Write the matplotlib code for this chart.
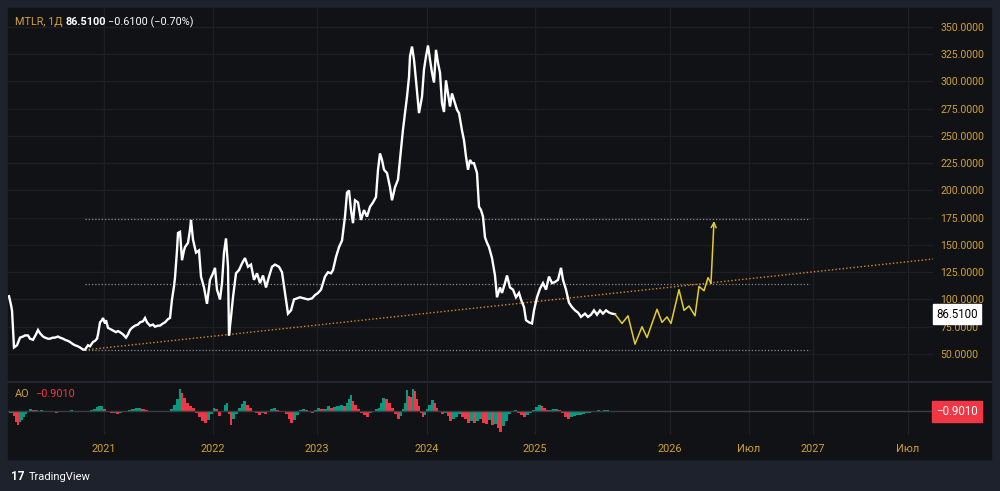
import numpy as np
import matplotlib.pyplot as plt
from matplotlib.patches import Rectangle
import matplotlib.transforms as mtransforms

plt.rcParams['font.family'] = ['Roboto', 'DejaVu Sans']

# --- données (x = rang de barre sur l'axe du temps)
bar = [9, 11, 12, 14, 17, 20, 23, 25, 28, 30, 33, 36, 38, 40, 43, 45, 48, 50, 53, 55,
       58, 60, 63, 65, 68, 70, 73, 75, 78, 80, 83, 85, 88, 90, 93, 95, 97, 98, 100, 102,
       103, 105, 106, 108, 110, 112, 114, 116, 118, 120, 123, 126, 128, 130, 132, 135, 138, 140, 143, 145,
       147, 150, 153, 155, 158, 160, 163, 165, 168, 170, 172, 174, 175, 177, 178, 180, 182, 184, 185, 188,
       190, 191, 193, 196, 199, 201, 204, 207, 210, 213, 215, 217, 220, 222, 224, 226, 228, 229, 231, 233,
       236, 239, 242, 245, 248, 251, 254, 257, 260, 263, 266, 269, 272, 275, 279, 282, 285, 288, 291, 294,
       297, 300, 304, 308, 312, 315, 318, 321, 325, 328, 331, 333, 336, 339, 342, 345, 347, 349, 351, 353,
       355, 358, 361, 364, 367, 370, 373, 376, 378, 380, 382, 384, 387, 390, 392, 395, 398, 401, 403, 405,
       407, 409, 410, 412, 414, 416, 419, 422, 424, 426, 428, 430, 432, 434, 436, 438, 440, 442, 444, 446,
       448, 450, 452, 454, 457, 459, 462, 464, 466, 468, 470, 472, 474, 477, 479, 481, 483, 485, 487, 489,
       492, 495, 497, 500, 502, 505, 507, 510, 513, 516, 519, 521, 524, 526, 529, 532, 534, 537, 540, 543,
       546, 549, 552, 555, 558, 561, 563, 566, 569, 572, 575, 578, 581, 585, 588, 591, 594, 597, 600, 603,
       606, 609, 612, 615]
close = [103, 95, 90, 56, 58, 65, 66, 67, 67, 64, 63, 68, 72, 69, 66, 65, 64, 64, 65, 65,
         66, 65, 64, 63, 62, 61, 59, 58, 57, 56, 54, 54, 58, 57, 61, 62, 64, 68, 79, 81,
         83, 78, 81, 74, 73, 72, 71, 70, 71, 70, 68, 65, 68, 72, 74, 76, 77, 79, 80, 83,
         79, 76, 77, 75, 76, 76, 78, 79, 82, 83, 100, 112, 120, 145, 161, 162, 136, 145, 148, 152,
         164, 173, 155, 143, 145, 121, 111, 96, 118, 124, 129, 109, 100, 115, 143, 156, 130, 67, 84, 102,
         124, 127, 133, 138, 130, 132, 118, 124, 115, 122, 111, 121, 130, 132, 130, 125, 106, 87, 90, 100,
         101, 102, 101, 100, 101, 104, 106, 109, 121, 125, 124, 127, 139, 148, 154, 176, 198, 200, 182, 170,
         191, 189, 173, 182, 176, 185, 189, 194, 219, 234, 228, 219, 216, 203, 191, 203, 210, 237, 256, 271,
         286, 304, 323, 332, 320, 301, 271, 286, 311, 323, 333, 320, 308, 299, 329, 317, 308, 280, 272, 301,
         289, 277, 289, 283, 274, 271, 255, 246, 231, 219, 228, 225, 225, 216, 185, 182, 176, 157, 152, 148,
         138, 122, 102, 111, 106, 115, 122, 111, 109, 102, 106, 100, 93, 81, 79, 78, 90, 102, 110, 115,
         109, 121, 115, 116, 118, 129, 118, 109, 97, 93, 90, 88, 84, 87, 84, 86, 90, 86, 90, 87,
         90, 88, 87, 86.51]

# prévision (jaune)
fc_bar = [615, 622, 628, 635, 642, 647, 657, 662, 667, 671, 679, 684, 689, 695, 699, 704, 708, 711, 714]
fc_val = [86.51, 78, 85, 59, 75, 65, 91, 79, 84, 78, 109, 90, 94, 85, 112, 108, 120, 115, 172]

# niveaux horizontaux et ligne de tendance
levels = [174, 114, 53.7]
level_span = [85, 810]
trend_pts = [(85, 53.7), (820, 126)]

# AO
ao_bar = [9, 11, 13, 15, 17, 19, 21, 23, 25, 27, 29, 32, 35, 38, 40, 43, 45, 48, 50, 53,
          55, 58, 60, 63, 66, 70, 73, 76, 80, 83, 86, 90, 93, 96, 98, 100, 103, 106, 110, 113,
          116, 119, 122, 125, 128, 131, 135, 138, 141, 145, 148, 151, 155, 158, 161, 164, 167, 170, 173, 176,
          179, 181, 183, 186, 189, 192, 195, 198, 201, 204, 207, 210, 213, 215, 218, 221, 224, 226, 228, 230,
          232, 235, 238, 241, 243, 246, 249, 252, 255, 258, 261, 264, 267, 270, 273, 276, 279, 282, 285, 288,
          290, 293, 296, 299, 302, 305, 308, 311, 314, 317, 320, 323, 327, 330, 333, 336, 340, 343, 346, 348,
          350, 352, 354, 357, 360, 363, 366, 369, 372, 375, 378, 380, 382, 385, 388, 391, 394, 397, 400, 402,
          404, 406, 408, 410, 412, 414, 416, 418, 420, 422, 424, 426, 428, 431, 434, 436, 438, 441, 444, 447,
          449, 452, 455, 458, 461, 464, 467, 470, 473, 476, 479, 482, 485, 488, 491, 494, 497, 499, 502, 505,
          508, 511, 514, 517, 520, 523, 526, 529, 532, 535, 538, 541, 543, 546, 549, 552, 555, 558, 561, 564,
          567, 570, 573, 576, 579, 582, 585, 588, 591, 594, 597, 600, 603, 606, 609, 612, 615]
ao_val = [-2, -2, -5, -11, -14, -11, -9, -6, -3, 0, 2, 1, 1, 0, 1, 0, 0, -1, -1, -1,
          -2, -1, -1, 0, 0, 1, 0, 0, 0, -1, 0, 1, 2, 4, 5, 5, 2, 0, -2, -2,
          -3, -2, -1, 0, 1, 2, 3, 3, 2, 1, 0, 0, -1, -1, 0, 0, 0, 2, 6, 12,
          22, 18, 13, 8, 5, 3, -2, -6, -10, -12, -9, -3, 3, 2, -5, 0, 6, 8, -3, -14,
          -8, -3, 3, 7, 10, 6, 3, 0, -2, -4, -2, -3, 0, 2, 3, 1, 0, -1, -3, -8,
          -12, -9, -4, 1, 2, 1, -1, -2, 1, 3, 2, 2, 5, 3, 4, 5, 6, 5, 8, 12,
          16, 10, 6, 2, -2, -4, -6, -2, 0, 2, 3, 8, 13, 12, 8, 3, -3, -8, -5, 2,
          8, 21, 15, 14, 22, 20, 12, 5, -2, -6, -4, 2, 6, 11, 8, 3, 0, -3, -2, -5,
          -10, -8, -6, -3, -6, -8, -12, -10, -12, -10, -8, -12, -13, -9, -14, -13, -17, -21, -15, -10,
          -3, 0, 1, -2, -4, -6, -4, -2, 1, 4, 6, 5, 3, 1, 1, 2, 2, 1, -2, -6,
          -8, -6, -5, -4, -4, -3, -2, -2, -1, 0, 1, 0, 1, 1, 0, -1, -0.901]

price_ticks = [50, 75, 100, 125, 150, 175, 200, 225, 250, 275, 300, 325, 350]
time_ticks = [104, 213, 317, 427, 535, 670, 749, 813, 908]
time_labels = ['2021', '2022', '2023', '2024', '2025', '2026', 'Июл', '2027', 'Июл']

# couleurs
bg_out = '#1e222d'
bg = '#111215'
grid = '#1d1f25'
gold = '#d0a235'
green = '#089981'
red = '#f23645'

W, H = 1000, 491
def fx(p): return p / W
def fy(p): return 1 - p / H

fig = plt.figure(figsize=(10, 4.91), dpi=100, facecolor=bg_out)
fig.patches.append(Rectangle((fx(8), fy(459)), fx(991) - fx(8), fy(8) - fy(459),
                             transform=fig.transFigure, color=bg, zorder=-5))

ax = fig.add_axes([fx(8), fy(381), fx(933) - fx(8), fy(8) - fy(381)])
ax2 = fig.add_axes([fx(8), fy(435), fx(933) - fx(8), fy(382) - fy(435)], sharex=ax)
for a in (ax, ax2):
    a.set_facecolor('none')
    for s in a.spines.values():
        s.set_visible(False)
    a.set_xticks(time_ticks)
    a.grid(True, axis='x', color=grid, lw=1)
    a.set_axisbelow(True)

# séparateur des panneaux
fig.add_artist(plt.Line2D([fx(8), fx(991)], [fy(381.5), fy(381.5)], color='#2a2d36', lw=1.2, zorder=-4))

# --- panneau prix
ax.set_xlim(8, 933)
ax.set_ylim(25.2, 367.4)
ax.set_yticks(price_ticks)
ax.yaxis.tick_right()
ax.yaxis.set_major_formatter(plt.FuncFormatter(lambda v, p: f'{v:.4f}'))
ax.tick_params(axis='y', length=0, pad=5.5, labelcolor=gold, labelsize=7.6)
ax.tick_params(axis='x', length=0, labelbottom=False)
ax.grid(True, axis='y', color=grid, lw=1)

for lv in levels:
    ax.plot(level_span, [lv, lv], color='#8a8d96', lw=0.9, ls=(0, (1, 1.6)))

(x0, y0), (x1, y1) = trend_pts
slope = (y1 - y0) / (x1 - x0)
ax.plot([x0, 933], [y0, y0 + slope * (933 - x0)], color='#d98a1f', lw=1.0, ls=(0, (1, 1.6)))

ax.plot(bar, close, color='white', lw=1.7, solid_joinstyle='miter', zorder=5)

ax.plot(fc_bar[:-1], fc_val[:-1], color='#e3cc2e', lw=1.1, zorder=5)
ax.annotate('', xy=(fc_bar[-1], fc_val[-1]), xytext=(fc_bar[-2], fc_val[-2]),
            arrowprops=dict(arrowstyle='->', color='#e3cc2e', lw=1.1,
                            mutation_scale=9, shrinkA=0, shrinkB=0), zorder=5)

trans = mtransforms.blended_transform_factory(ax.transAxes, ax.transData)
ax.text(1.0035, close[-1], f'{close[-1]:.4f}', transform=trans, ha='left', va='center',
        fontsize=8.3, color='black',
        bbox=dict(boxstyle='square,pad=0.3', fc='white', ec='white'))

# --- panneau AO
ao_x = np.array(ao_bar, dtype=float)
widths = np.diff(np.append(ao_x, ao_x[-1] + 2))
ao_colors = [green] + [green if ao_val[i] >= ao_val[i - 1] else red for i in range(1, len(ao_val))]
ax2.bar(ao_x, ao_val, width=widths, align='edge', color=ao_colors, lw=0)
ax2.axhline(0, color='#3a3d46', lw=1)
ax2.set_ylim(-24, 29)
ax2.set_yticks([])
ax2.tick_params(axis='x', length=0, pad=6.5, labelcolor=gold, labelsize=7.8)
ax2.set_xticklabels(time_labels)

trans2 = mtransforms.blended_transform_factory(ax2.transAxes, ax2.transData)
ax2.text(1.0035, ao_val[-1], f'{ao_val[-1]:.4f}'.replace('-', '−'), transform=trans2,
         ha='left', va='center', fontsize=8.3, color='white',
         bbox=dict(boxstyle='square,pad=0.35', fc=red, ec=red))

# --- textes d'en-tête
fig.text(fx(15), fy(22), 'MTLR, 1Д', color=gold, fontsize=7.8, va='center')
fig.text(fx(66), fy(22), '86.5100', color='white', fontsize=7.8, va='center', fontweight='bold')
fig.text(fx(108), fy(22), '−0.6100 (−0.70%)', color='white', fontsize=7.8, va='center')
fig.text(fx(15), fy(394), 'AO', color=gold, fontsize=7.8, va='center')
fig.text(fx(35), fy(394), '−0.9010', color=red, fontsize=7.8, va='center')

# logo
fig.text(fx(11), fy(477), '17', color='white', fontsize=8.5, va='center', fontweight='bold')
fig.text(fx(29), fy(477), 'TradingView', color='white', fontsize=8, va='center')

fig.savefig('out.png', dpi=100, facecolor=bg_out)
